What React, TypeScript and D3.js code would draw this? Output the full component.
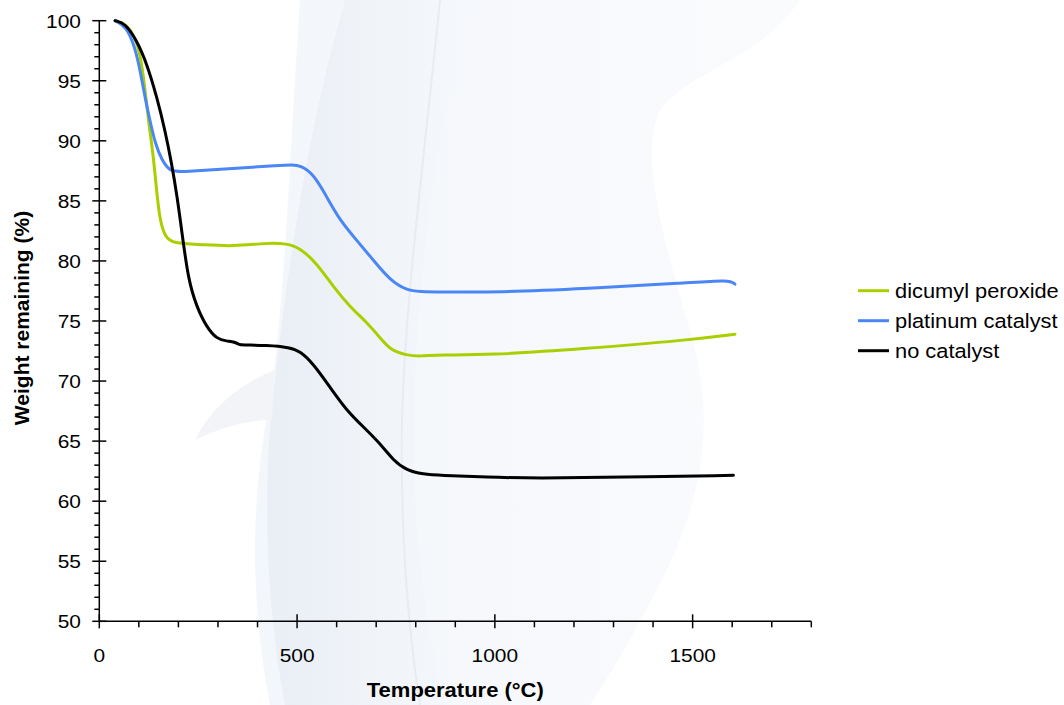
import React, { useEffect, useRef } from 'react';
import * as d3 from 'd3';

// thermogravimetric curves
const seriesNames = ['dicumyl peroxide', 'platinum catalyst', 'no catalyst'];
const seriesColors = ['#a9cf00', '#4a86f5', '#000000'];

const dicumylTemp = [40, 70, 90, 103, 115, 124, 136, 145, 153, 166, 187, 254, 339, 423, 474, 507, 550, 592, 634, 676, 710, 735, 777, 811, 861, 979, 1232, 1485, 1607];
const dicumylWeight = [100, 99.7, 98.6, 97.3, 94.5, 91.7, 88.95, 85.8, 83.4, 82.0, 81.45, 81.37, 81.2, 81.5, 81.45, 81.1, 79.8, 77.83, 76.17, 74.9, 73.6, 72.6, 72.14, 72.06, 72.2, 72.14, 72.7, 73.4, 73.9];

const platinumTemp = [40, 69, 90, 103, 115, 128, 141, 158, 179, 212, 339, 457, 490, 507, 541, 575, 608, 651, 693, 735, 777, 811, 861, 1004, 1232, 1485, 1594, 1607];
const platinumWeight = [100, 99.5, 97.8, 95.9, 93.7, 91.7, 89.8, 88.4, 87.42, 87.42, 87.7, 87.97, 88.0, 87.95, 87.28, 85.33, 83.4, 81.7, 80.06, 78.4, 77.56, 77.45, 77.42, 77.37, 77.7, 78.17, 78.45, 78.06];

const noCatTemp = [40, 65, 94, 120, 145, 166, 183, 197, 208, 225, 246, 271, 297, 322, 343, 352, 360, 423, 482, 507, 541, 583, 625, 667, 710, 743, 777, 819, 861, 979, 1106, 1316, 1603];
const noCatWeight = [100, 99.8, 98.4, 96.45, 93.7, 90.9, 88.1, 85.3, 82.6, 78.4, 76.2, 74.5, 73.5, 73.33, 73.25, 73.05, 73.0, 72.98, 72.8, 72.5, 71.45, 69.5, 67.56, 66.2, 64.8, 63.4, 62.56, 62.25, 62.15, 62.0, 61.9, 62.0, 62.15];

const xTicks = [0, 500, 1000, 1500];
const yTicks = [50, 55, 60, 65, 70, 75, 80, 85, 90, 95, 100];

const FONT = '"Liberation Sans", Arial, Helvetica, sans-serif';

const App = () => {
  const svgRef = useRef<SVGSVGElement>(null);

  useEffect(() => {
    const width = 1064;
    const height = 705;
    const svg = d3.select(svgRef.current);
    svg.selectAll('*').remove();
    svg.attr('width', width).attr('height', height);

    // soft background artwork
    const defs = svg.append('defs');
    const g1 = defs.append('linearGradient').attr('id', 'bandGrad').attr('x1', 0).attr('x2', 1).attr('y1', 0).attr('y2', 0);
    g1.append('stop').attr('offset', '0%').attr('stop-color', '#e8edf4');
    g1.append('stop').attr('offset', '50%').attr('stop-color', '#eff3f8');
    g1.append('stop').attr('offset', '100%').attr('stop-color', '#f5f8fc');
    const g2 = defs.append('linearGradient').attr('id', 'bodyGrad').attr('x1', 0).attr('x2', 1).attr('y1', 0).attr('y2', 0);
    g2.append('stop').attr('offset', '0%').attr('stop-color', '#f3f6fa');
    g2.append('stop').attr('offset', '100%').attr('stop-color', '#fafbfd');

    const bg = svg.append('g');
    bg.append('path')
      .attr('d', 'M 300 0 L 800 0 C 760 60 690 70 660 110 C 640 150 660 230 690 330 C 720 430 700 520 640 620 C 620 660 600 690 590 705 L 270 705 C 250 600 250 500 270 400 C 285 300 290 150 300 0 Z')
      .attr('fill', 'url(#bodyGrad)');
    bg.append('path')
      .attr('d', 'M 345 0 L 470 0 C 440 120 420 250 415 380 C 410 500 420 600 445 705 L 285 705 C 265 600 262 480 275 380 C 290 250 310 120 345 0 Z')
      .attr('fill', 'url(#bandGrad)')
      .attr('opacity', 0.85);
    bg.append('path')
      .attr('d', 'M 195 440 C 215 400 250 380 275 370 L 272 420 C 245 420 215 430 195 440 Z')
      .attr('fill', '#f2f4f7');
    bg.append('path')
      .attr('d', 'M 440 0 C 425 150 405 300 402 420 C 400 540 410 640 420 705')
      .attr('fill', 'none').attr('stroke', '#e6e8ed').attr('stroke-width', 2).attr('opacity', 0.8);

    const x = d3.scaleLinear().domain([0, 1800]).range([99.3, 811.3]);
    const y = d3.scaleLinear().domain([50, 100]).range([621.3, 20.7]);

    const axes = svg.append('g');
    // y axis
    axes.append('line').attr('x1', x(0)).attr('x2', x(0)).attr('y1', y(50)).attr('y2', y(100)).attr('stroke', '#000').attr('stroke-width', 1.5);
    d3.range(50, 101, 1).forEach(v => {
      const major = v % 5 === 0;
      axes.append('line')
        .attr('x1', major ? x(0) - 7 : x(0) - 5).attr('x2', major ? x(0) + 7 : x(0))
        .attr('y1', y(v)).attr('y2', y(v))
        .attr('stroke', '#000').attr('stroke-width', 1.5);
    });
    yTicks.forEach(v => {
      axes.append('text')
        .attr('transform', `translate(81, ${y(v) + 7}) scale(1.1, 1)`)
        .attr('text-anchor', 'end')
        .style('font-family', FONT).style('font-size', '19px')
        .text(v);
    });
    // x axis
    axes.append('line').attr('x1', x(0)).attr('x2', x(1800)).attr('y1', y(50)).attr('y2', y(50)).attr('stroke', '#000').attr('stroke-width', 1.5);
    d3.range(0, 1801, 100).forEach(v => {
      const major = v % 500 === 0;
      axes.append('line')
        .attr('x1', x(v)).attr('x2', x(v))
        .attr('y1', major ? y(50) - 7 : y(50)).attr('y2', major ? y(50) + 7 : y(50) + 6)
        .attr('stroke', '#000').attr('stroke-width', 1.5);
    });
    xTicks.forEach(v => {
      axes.append('text')
        .attr('transform', `translate(${x(v)}, 662) scale(1.1, 1)`)
        .attr('text-anchor', 'middle')
        .style('font-family', FONT).style('font-size', '19px')
        .text(v);
    });

    axes.append('text')
      .attr('transform', `translate(${(x(0) + x(1800)) / 2}, 697) scale(1.1, 1)`)
      .attr('text-anchor', 'middle')
      .style('font-family', FONT).style('font-size', '20px').style('font-weight', 'bold')
      .text('Temperature (°C)');
    axes.append('text')
      .attr('transform', `translate(29, ${(y(50) + y(100)) / 2 - 3}) rotate(-90)`)
      .attr('text-anchor', 'middle')
      .style('font-family', FONT).style('font-size', '21px').style('font-weight', 'bold')
      .text('Weight remaining (%)');

    const temps = [dicumylTemp, platinumTemp, noCatTemp];
    const weights = [dicumylWeight, platinumWeight, noCatWeight];
    const line = d3.line<[number, number]>()
      .x(d => x(d[0]))
      .y(d => y(d[1]))
      .curve(d3.curveBasis);

    temps.forEach((t, i) => {
      const pts = t.map((v, j) => [v, weights[i][j]] as [number, number]);
      svg.append('path')
        .attr('d', line(pts))
        .attr('fill', 'none')
        .attr('stroke', seriesColors[i])
        .attr('stroke-width', 3)
        .attr('stroke-linejoin', 'round')
        .attr('stroke-linecap', 'round');
    });

    // legend
    const legend = svg.append('g');
    seriesNames.forEach((name, i) => {
      const ly = 290.7 + i * 30;
      legend.append('line')
        .attr('x1', 858).attr('x2', 889).attr('y1', ly).attr('y2', ly)
        .attr('stroke', seriesColors[i]).attr('stroke-width', 3);
      legend.append('text')
        .attr('transform', `translate(895, ${ly + 6.8}) scale(1.12, 1)`)
        .style('font-family', FONT).style('font-size', '19.5px')
        .text(name);
    });
  }, []);

  return <svg ref={svgRef} style={{ position: 'absolute', left: 0, top: 0, background: '#fff' }}></svg>;
};

export default App;
